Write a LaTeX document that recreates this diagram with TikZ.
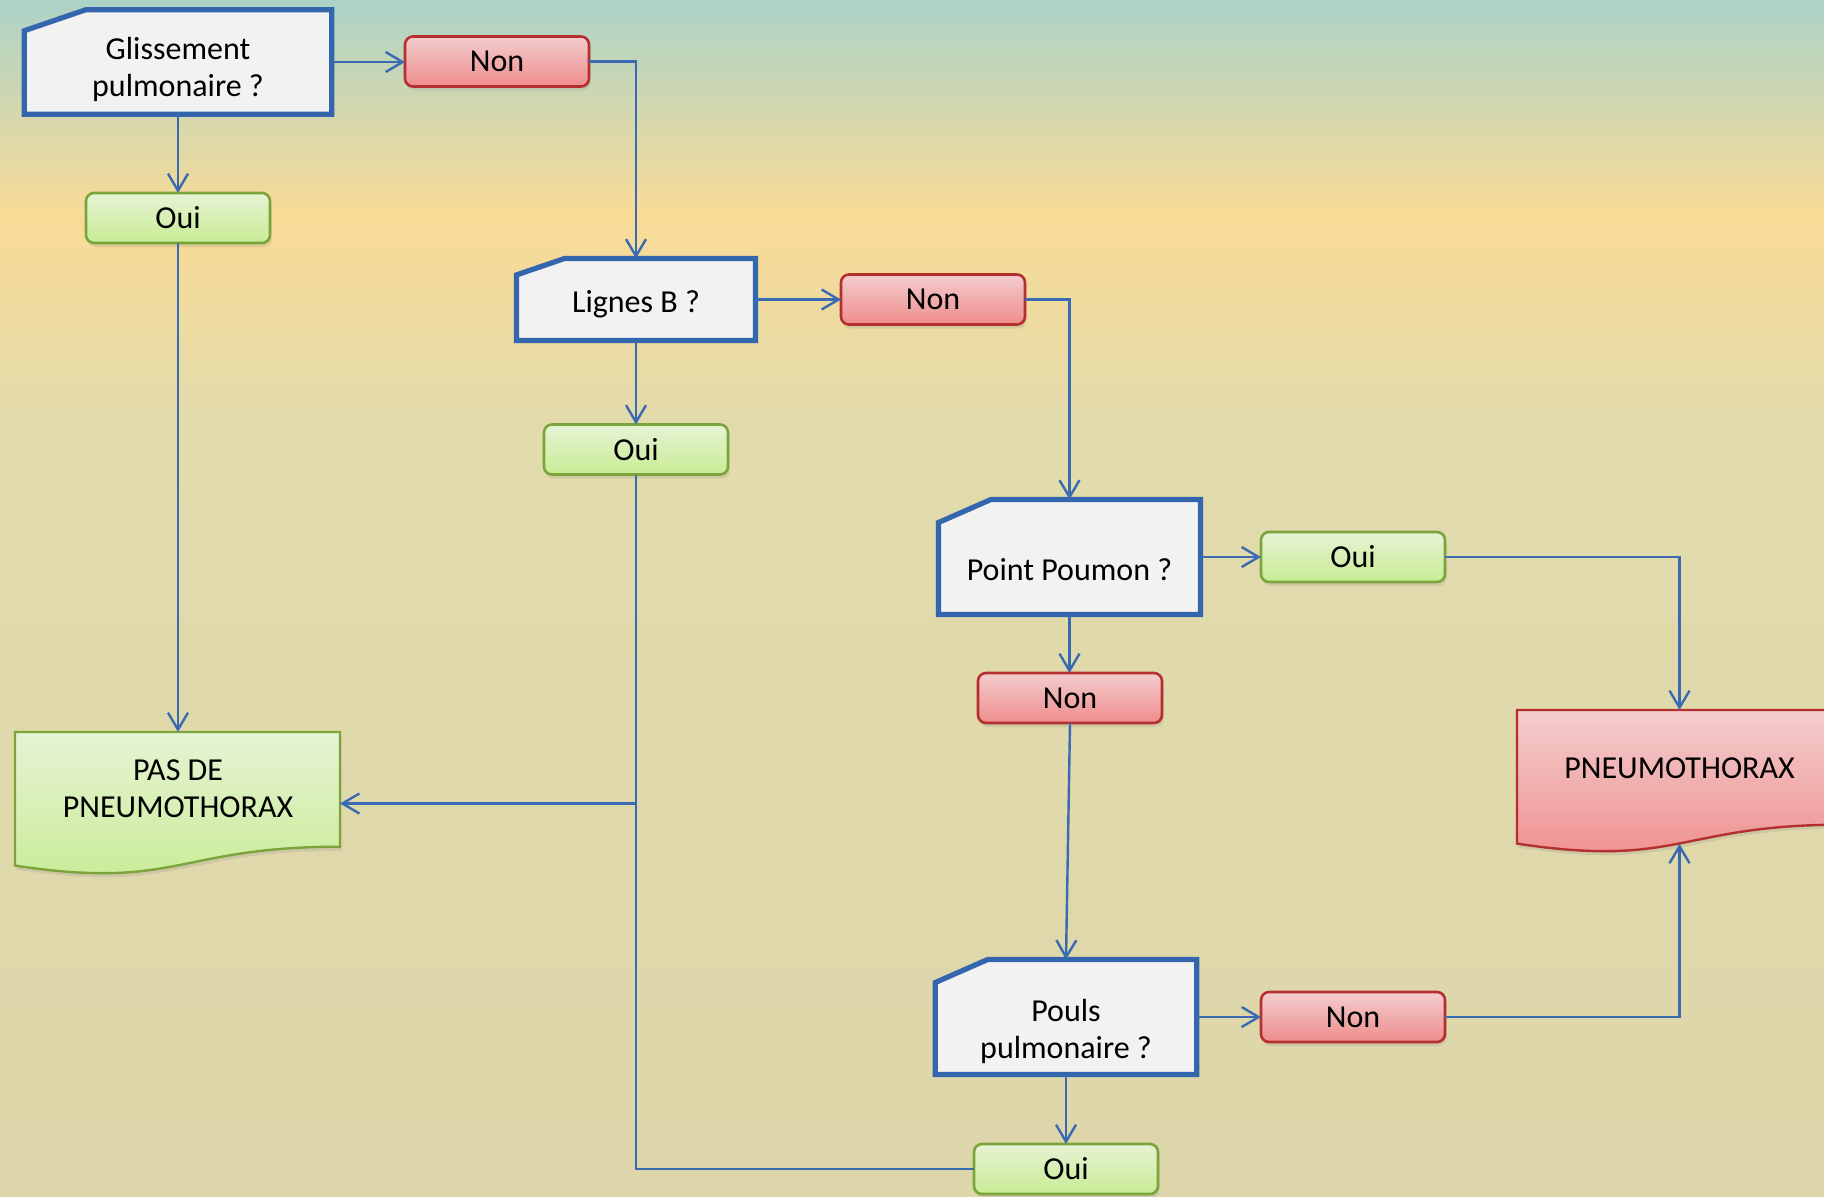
\documentclass[tikz,border=0pt]{standalone}
\usepackage{fontspec}
\setmainfont{Carlito}
\usetikzlibrary{arrows.meta,shadows}

\definecolor{bgtop}{RGB}{172,211,200}
\definecolor{bgpeach}{RGB}{249,219,150}
\definecolor{bgmid}{RGB}{226,219,172}
\definecolor{bgbottom}{RGB}{220,214,170}
\definecolor{qblue}{RGB}{52,102,173}
\definecolor{qfill}{RGB}{242,242,242}
\definecolor{lineblue}{RGB}{58,106,177}
\definecolor{nonedge}{RGB}{180,48,48}
\definecolor{nontop}{RGB}{243,205,205}
\definecolor{nonbot}{RGB}{239,140,140}
\definecolor{ouiedge}{RGB}{124,164,60}
\definecolor{ouitop}{RGB}{230,243,212}
\definecolor{ouibot}{RGB}{200,236,148}

\newcommand\boxfont{\fontsize{16}{18.5}\selectfont}

% card outline with the top-left corner cut off
\newcommand\cardoutline[3]{%
  \path[qline] ([yshift=-#3]#1.north west) -- ([xshift=#2]#1.north west)
    -- (#1.north east) -- (#1.south east) -- (#1.south west) -- cycle;}

\tikzset{
  qbox/.style={rectangle, inner sep=0pt, outer sep=0pt},
  qline/.style={draw=qblue, line width=2.6pt, fill=qfill, line join=miter},
  qtext/.style={align=center, font=\boxfont, inner sep=0pt},
  smallbox/.style={rectangle, rounded corners=4pt, line width=1.3pt,
    minimum width=92pt, minimum height=25pt, inner sep=0pt, outer sep=0pt,
    font=\boxfont,
    drop shadow={opacity=0.18, shadow xshift=0.8pt, shadow yshift=-2pt}},
  nonbox/.style={smallbox, draw=nonedge, top color=nontop, bottom color=nonbot},
  ouibox/.style={smallbox, draw=ouiedge, top color=ouitop, bottom color=ouibot},
  docbox/.style={rectangle, inner sep=0pt, outer sep=0pt,
    minimum width=162.5pt, minimum height=71.5pt},
  docpath/.style={line width=1.2pt,
    drop shadow={opacity=0.18, shadow xshift=0.8pt, shadow yshift=-2pt}},
  conn/.style={draw=lineblue, line width=1.2pt},
  arr/.style={conn, -{Straight Barb[length=8.5pt, width=10pt]}},
}

\begin{document}
\begin{tikzpicture}[x=0.5pt, y=-0.5pt]
\useasboundingbox (0,0) rectangle (1824,1196);
\clip (0,0) rectangle (1824,1196);

% background
\fill[top color=bgtop, bottom color=bgpeach] (0,0) rectangle (1824,215);
\fill[top color=bgpeach, bottom color=bgmid] (0,214) rectangle (1824,430);
\fill[top color=bgmid, bottom color=bgbottom] (0,429) rectangle (1824,1196);

% question cards
\node[qbox, minimum width=153.75pt, minimum height=52.25pt] (Q1) at (178,62) {};
\cardoutline{Q1}{30.75pt}{10.5pt}
\node[qtext] (Q1t) at (178,69) {Glissement\\pulmonaire ?};

\node[qbox, minimum width=119.5pt, minimum height=41pt] (Q2) at (636,299.5) {};
\cardoutline{Q2}{24pt}{8.2pt}
\node[qtext] (Q2t) at (636,304) {Lignes B ?};

\node[qbox, minimum width=131pt, minimum height=57.5pt] (Q3) at (1069.5,557) {};
\cardoutline{Q3}{26.2pt}{11.5pt}
\node[qtext] (Q3t) at (1069.5,570) {Point Poumon ?};

\node[qbox, minimum width=130.75pt, minimum height=57.5pt] (Q4) at (1066,1017) {};
\cardoutline{Q4}{26.2pt}{11.5pt}
\node[qtext] (Q4t) at (1066,1031) {Pouls\\pulmonaire ?};

% answer boxes
\node[nonbox] (Non1) at (497,61.5) {Non};
\node[ouibox] (Oui1) at (178,218) {Oui};
\node[nonbox] (Non2) at (933,299.5) {Non};
\node[ouibox] (Oui2) at (636,449.5) {Oui};
\node[ouibox] (Oui3) at (1353,557) {Oui};
\node[nonbox] (Non3) at (1070,698) {Non};
\node[nonbox] (Non4) at (1353,1017) {Non};
\node[ouibox] (Oui4) at (1066,1169) {Oui};

% outcome documents
\node[docbox] (PAS) at (177.5,803.5) {};
\begin{scope}[shift={(PAS.north west)}, x=162.5pt, y=-71.5pt]
  \path[docpath, draw=ouiedge, top color=ouitop, bottom color=ouibot]
    (0,0) -- (1,0) -- (1,0.802) .. controls (0.5,0.802) and (0.5,1.1075) .. (0,0.934) -- cycle;
\end{scope}
\node[qtext] (PAStext) at (178,789) {PAS DE\\PNEUMOTHORAX};

\node[docbox] (PNEU) at (1679.5,781.5) {};
\begin{scope}[shift={(PNEU.north west)}, x=162.5pt, y=-71.5pt]
  \path[docpath, draw=nonedge, top color=nontop, bottom color=nonbot]
    (0,0) -- (1,0) -- (1,0.802) .. controls (0.5,0.802) and (0.5,1.1075) .. (0,0.934) -- cycle;
  \coordinate (PNEUb) at (0.5,0.936);
\end{scope}
\node[qtext] (PNEUtext) at (1679.5,768) {PNEUMOTHORAX};

% connectors
\draw[arr] (Q1.east) -- (Q1.east -| Non1.west);
\draw[arr] (Non1.east) -| (Q2.north);
\draw[arr] (Q1.south) -- (Q1.south |- Oui1.north);
\draw[arr] (Oui1.south) -- (Oui1.south |- PAS.north);
\draw[arr] (Q2.east) -- (Q2.east -| Non2.west);
\draw[arr] (Q2.south) -- (Q2.south |- Oui2.north);
\draw[arr] (Non2.east) -| (Q3.north);
\coordinate (J) at (Oui2.south |- PAS.east);
\draw[conn] (Oui2.south) -- (J);
\draw[arr] (J) -- (PAS.east);
\draw[conn] (Oui4.west) -| (J);
\draw[arr] (Q3.east) -- (Q3.east -| Oui3.west);
\draw[arr] (Oui3.east) -| (PNEU.north);
\draw[arr] (Q3.south) -- (Q3.south |- Non3.north);
\draw[arr] (Non3.south) -- (Q4.north);
\draw[arr] (Q4.east) -- (Q4.east -| Non4.west);
\draw[arr] (Q4.south) -- (Q4.south |- Oui4.north);
\draw[arr] (Non4.east) -| (PNEUb);
\end{tikzpicture}
\end{document}
